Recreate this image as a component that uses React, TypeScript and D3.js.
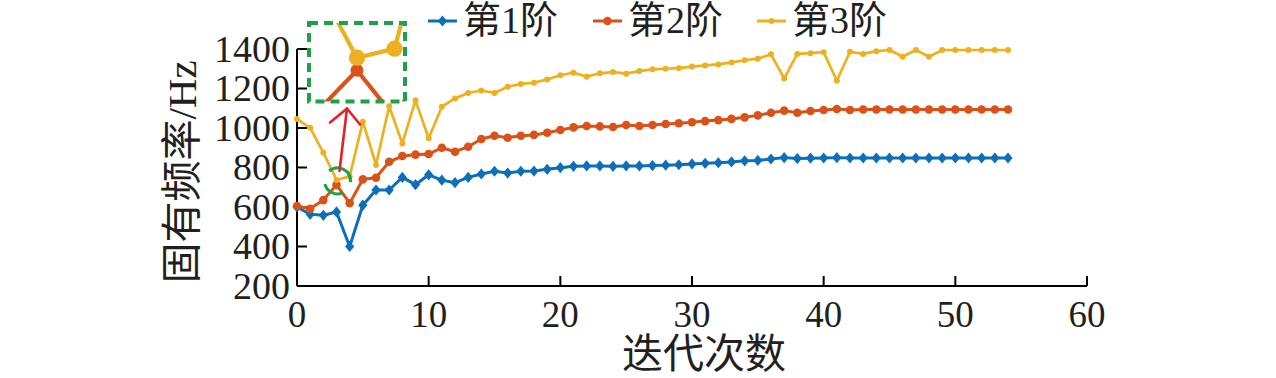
import React from "react";
import * as d3 from "d3";

// ---------- data ----------
const seriesNames = ["第1阶", "第2阶", "第3阶"];
const seriesColors = ["#0E6EB8", "#D95319", "#EDB120"];

const mode1 = [600, 563, 558, 575, 400, 609, 686, 686, 750, 713, 763, 736, 723, 750, 767, 781, 772, 781, 782, 791,
  799, 806, 808, 808, 806, 808, 808, 810, 812, 814, 818, 821, 824, 828, 834, 836, 843, 850, 845, 847,
  848, 850, 848, 848, 848, 848, 848, 848, 848, 848, 848, 848, 848, 848, 848];
const mode2 = [605, 591, 635, 712, 619, 740, 748, 829, 858, 865, 868, 900, 880, 905, 944, 961, 951, 961, 965, 976,
  990, 1003, 1010, 1008, 1005, 1015, 1010, 1015, 1020, 1024, 1029, 1035, 1040, 1046, 1054, 1064, 1077, 1088, 1077, 1086,
  1091, 1096, 1091, 1094, 1094, 1094, 1094, 1094, 1094, 1094, 1094, 1094, 1094, 1094, 1094];
const mode3 = [1045, 1001, 875, 737, 755, 1032, 813, 1110, 922, 1140, 948, 1108, 1150, 1177, 1190, 1177, 1209, 1223, 1229, 1246,
  1267, 1280, 1260, 1277, 1283, 1275, 1288, 1297, 1300, 1303, 1311, 1317, 1322, 1332, 1343, 1351, 1373, 1251, 1375, 1379,
  1384, 1239, 1386, 1375, 1389, 1395, 1361, 1395, 1361, 1395, 1395, 1395, 1395, 1395, 1395];

const xTicks = [0, 10, 20, 30, 40, 50, 60];
const yTicks = [200, 400, 600, 800, 1000, 1200, 1400];
const xTitle = "迭代次数";
const yTitle = "固有频率/Hz";

// zoomed inset window (data space) and highlighted point
const insetXDomain = [1.72, 4.28];
const insetYDomain = [650, 806];
const highlightIndex = 3;

// ---------- layout ----------
const W = 1276;
const H = 378;
const PL = 297, PR = 1087, PT = 49, PB = 286;
const INSET = { x: 309, y: 23, w: 96, h: 78.5 };
const FONT = "'Liberation Serif', 'Times New Roman', 'Noto Sans CJK SC', serif";

const allSeries = [mode1, mode2, mode3];

function marker(kind: number, cx: number, cy: number, color: string, scale = 1, key?: any) {
  if (kind === 0) {
    const hw = 4.6 * scale, hh = 5.6 * scale;
    return <path key={key} d={`M${cx},${cy - hh}L${cx + hw},${cy}L${cx},${cy + hh}L${cx - hw},${cy}Z`} fill={color} />;
  }
  const r = (kind === 1 ? 4.3 : 3.0) * scale;
  return <circle key={key} cx={cx} cy={cy} r={r} fill={color} />;
}

export default function App() {
  const x = d3.scaleLinear().domain([0, 60]).range([PL, PR]);
  const y = d3.scaleLinear().domain([200, 1400]).range([PB, PT]);
  const xi = d3.scaleLinear().domain(insetXDomain).range([INSET.x, INSET.x + INSET.w]);
  const yi = d3.scaleLinear().domain(insetYDomain).range([INSET.y + INSET.h, INSET.y]);

  const line = d3.line<number>().x((_, i) => x(i)).y((d) => y(d));
  const lineInset = d3.line<number>().x((_, i) => xi(i)).y((d) => yi(d));
  const widths = [3, 3, 2.7];

  const legendX = [428, 593, 757];
  const legendY = 21;

  // highlight circle around 3rd mode at iteration 3
  const hx = x(highlightIndex) + 1;
  const hy = y(mode3[highlightIndex]) + 1;
  const arc = d3.arc();
  const arcTop = arc({ innerRadius: 13, outerRadius: 13, startAngle: (-40 * Math.PI) / 180, endAngle: (95 * Math.PI) / 180 } as any) || "";
  const arcBot = arc({ innerRadius: 13, outerRadius: 13, startAngle: (158 * Math.PI) / 180, endAngle: (256 * Math.PI) / 180 } as any) || "";

  // red arrow from highlight towards inset
  const a0 = [hx + 2, hy - 10];
  const a1 = [INSET.x + 38, INSET.y + INSET.h + 7];

  return (
    <svg width={W} height={H} style={{ position: "absolute", left: 0, top: 0, background: "#fff" }} fontFamily={FONT}>
      <defs>
        <clipPath id="insetClip">
          <rect x={INSET.x} y={INSET.y} width={INSET.w} height={INSET.h} />
        </clipPath>
      </defs>
      <rect x={0} y={0} width={W} height={H} fill="#fff" />

      {/* axes */}
      <line x1={PL} y1={PT} x2={PL} y2={PB} stroke="#000" strokeWidth={2} />
      <line x1={PL} y1={PB} x2={PR} y2={PB} stroke="#000" strokeWidth={2} />
      {yTicks.map((t) => (
        <g key={"yt" + t}>
          <line x1={PL} x2={PL + 10} y1={y(t)} y2={y(t)} stroke="#000" strokeWidth={2} />
          <text x={PL - 7} y={y(t)} dy="0.34em" textAnchor="end" fontSize={38} fill="#231f20">{t}</text>
        </g>
      ))}
      {xTicks.map((t) => (
        <g key={"xt" + t}>
          <line x1={x(t)} x2={x(t)} y1={PB} y2={PB - 10} stroke="#000" strokeWidth={2} />
          <text x={x(t)} y={PB + 41} textAnchor="middle" fontSize={37} fill="#231f20">{t}</text>
        </g>
      ))}
      <text x={704} y={368} textAnchor="middle" fontSize={41} fill="#231f20">{xTitle}</text>
      <text transform={`translate(196,172) rotate(-90)`} textAnchor="middle" fontSize={41} fill="#231f20">{yTitle}</text>

      {/* series */}
      {allSeries.map((s, k) => (
        <g key={"s" + k}>
          <path d={line(s) || ""} fill="none" stroke={seriesColors[k]} strokeWidth={widths[k]} strokeLinejoin="round" />
          {s.map((v, i) => marker(k, x(i), y(v), seriesColors[k], 1, i))}
        </g>
      ))}

      {/* highlight circle */}
      <g transform={`translate(${hx},${hy})`} fill="none" stroke="#1FA149" strokeWidth={3}>
        <path d={arcTop} />
        <path d={arcBot} />
      </g>

      {/* red arrow */}
      <g stroke="#E4202A" strokeWidth={2.6} fill="none" strokeLinecap="round">
        <line x1={a0[0]} y1={a0[1]} x2={a1[0]} y2={a1[1]} />
        <polyline points={`${a1[0] - 17},${a1[1] + 14} ${a1[0]},${a1[1]} ${a1[0] + 13},${a1[1] + 16}`} />
      </g>

      {/* inset zoom */}
      <g clipPath="url(#insetClip)">
        {[mode1, mode2, mode3].map((s, k) => (
          <path key={"il" + k} d={lineInset(s) || ""} fill="none" stroke={seriesColors[k]} strokeWidth={4.2} />
        ))}
        {[mode2, mode3].map((s, k) =>
          s.map((v, i) => marker(k + 1, xi(i), yi(v), seriesColors[k + 1], k === 0 ? 1.5 : 2.7, "im" + k + "_" + i))
        )}
      </g>
      <rect x={INSET.x} y={INSET.y} width={INSET.w} height={INSET.h} fill="none" stroke="#1FA149" strokeWidth={4} strokeDasharray="9 6" />

      {/* legend */}
      {seriesNames.map((n, k) => (
        <g key={"lg" + k}>
          <line x1={legendX[k]} x2={legendX[k] + 29} y1={legendY} y2={legendY} stroke={seriesColors[k]} strokeWidth={3} />
          {marker(k, legendX[k] + 14.5, legendY, seriesColors[k])}
          <text x={legendX[k] + 35} y={legendY + 12} fontSize={38} fill="#231f20">{n}</text>
        </g>
      ))}
    </svg>
  );
}
